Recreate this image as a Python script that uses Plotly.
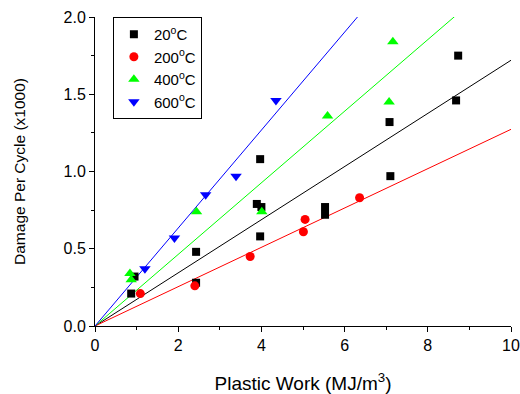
import plotly.graph_objects as go

# 20°C
x20 = [0.87, 0.95, 2.43, 2.43, 3.89, 3.97, 3.97, 4.00, 5.53, 5.53, 7.08, 7.10, 8.68, 8.73]
y20 = [0.21, 0.32, 0.28, 0.48, 0.79, 1.08, 0.58, 0.77, 0.77, 0.72, 1.32, 0.97, 1.46, 1.75]
# 200°C
x200 = [1.09, 2.40, 3.73, 5.01, 5.05, 6.36]
y200 = [0.21, 0.26, 0.45, 0.61, 0.69, 0.83]
# 400°C
x400 = [0.84, 0.87, 2.44, 4.01, 5.59, 7.07, 7.16]
y400 = [0.34, 0.30, 0.74, 0.74, 1.36, 1.45, 1.84]
# 600°C
x600 = [1.20, 1.91, 2.66, 3.39, 4.35]
y600 = [0.37, 0.57, 0.85, 0.97, 1.46]

# fitted slopes (lines through origin)
slopes = [0.172, 0.1273, 0.2317, 0.317]
names = ["20<sup>o</sup>C", "200<sup>o</sup>C", "400<sup>o</sup>C", "600<sup>o</sup>C"]
colors = ["#000000", "#FF0000", "#00FF00", "#0000FF"]
symbols = ["square", "circle", "triangle-up", "triangle-down"]
sizes = [8, 9, 10, 10]
fit_x = [0, 10]

xs = [x20, x200, x400, x600]
ys = [y20, y200, y400, y600]

FONT = "Liberation Sans, Arial, sans-serif"

fig = go.Figure()
for s, c in zip(slopes, colors):
    fig.add_trace(go.Scatter(x=fit_x, y=[s * v for v in fit_x], mode="lines",
                             line=dict(color=c, width=1), showlegend=False,
                             hoverinfo="skip"))
for x, y, n, c, sym, sz in zip(xs, ys, names, colors, symbols, sizes):
    fig.add_trace(go.Scatter(x=x, y=y, mode="markers", name=n,
                             marker=dict(color=c, symbol=sym, size=sz, line=dict(width=0))))

axis_common = dict(showline=True, linecolor="black", linewidth=1, ticks="outside",
                   ticklen=5, tickwidth=1, tickcolor="black", showgrid=False, zeroline=False,
                   mirror=False, automargin=False,
                   tickfont=dict(family=FONT, size=16, color="black"))

fig.update_xaxes(range=[0, 10], dtick=2, tick0=0,
                 minor=dict(dtick=1, ticks="outside", ticklen=3, tickcolor="black"),
                 title=dict(text="Plastic Work (MJ/m<sup>3</sup>)", standoff=24,
                            font=dict(family=FONT, size=19, color="black")),
                 **axis_common)
fig.update_yaxes(range=[0, 2.0], dtick=0.5, tick0=0, tickformat=".1f",
                 minor=dict(dtick=0.25, ticks="outside", ticklen=3, tickcolor="black"),
                 title=dict(text="Damage Per Cycle (x1000)", standoff=34,
                            font=dict(family=FONT, size=15.5, color="black")),
                 **axis_common)

fig.update_layout(
    width=520, height=394,
    margin=dict(l=95, r=9, t=17, b=68),
    paper_bgcolor="white", plot_bgcolor="white",
    font=dict(family=FONT, size=15, color="black"),
    legend=dict(x=0.043, y=1.0, xanchor="left", yanchor="top",
                bordercolor="black", borderwidth=1, bgcolor="white",
                font=dict(size=15), tracegroupgap=0, itemwidth=30),
)

fig.write_html("out.html")
